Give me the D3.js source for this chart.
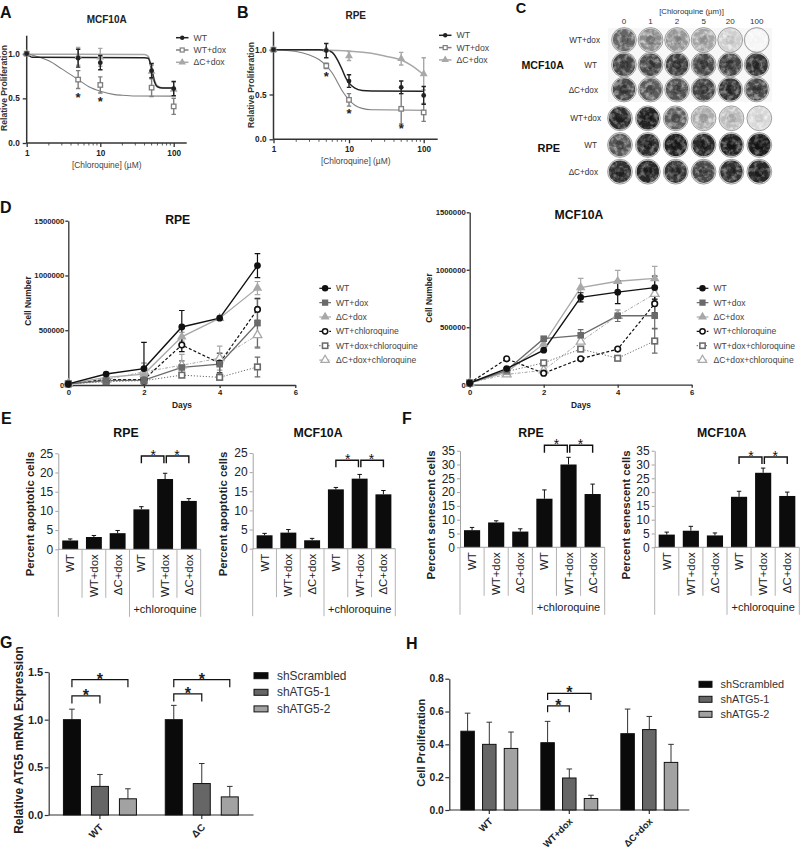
<!DOCTYPE html>
<html><head><meta charset="utf-8">
<script src="https://cdn.jsdelivr.net/npm/d3@7"></script>
<style>
html,body{margin:0;padding:0;background:#fff}
svg{display:block}
text{font-family:"Liberation Sans",Arial,sans-serif}
</style></head><body><div id="chart"></div>
<script>
// ---------- DATA ----------
const doseSeries = ["WT","WT+dox","ΔC+dox"];
const doses = [1,5,10,50,100];
const aWT = [1,.95,.90,.81,.61], aWTe = [0,.10,.08,.08,.08];
const aDox = [1,.71,.65,.62,.41], aDoxe = [0,.10,.09,.10,.09];
const aDC = [1,.97,.96,.80,.60], aDCe = [0,.10,.10,.07,.08];
const aCurveWT = [[1,1],[1.2,.96],[40,.955],[45,.95],[50,.83],[55,.68],[60,.63],[70,.615],[100,.615]];
const aCurveDox = [[1,1],[1.5,.96],[2,.92],[3,.83],[5,.71],[7,.63],[10,.58],[15,.545],[20,.535],[30,.527],[100,.525]];
const aCurveDC = [[1,.995],[40,.99],[45,.97],[50,.84],[55,.70],[60,.64],[70,.62],[100,.615]];
const bWT = [1,.99,.65,.58,.49], bWTe = [0,.08,.07,.07,.10];
const bDox = [1,.82,.44,.34,.30], bDoxe = [0,.03,.07,.17,.10];
const bDC = [1,1,.93,.90,.73], bDCe = [0,0,.05,.07,.18];
const bCurveWT = [[1,1],[4,1],[5,.995],[6,.97],[7,.89],[8,.79],[9,.69],[10,.63],[12,.57],[15,.545],[20,.54],[100,.535]];
const bCurveDox = [[1,1],[2,.98],[3,.94],[4,.89],[5,.82],[6,.74],[7,.64],[8,.55],[10,.44],[12,.38],[15,.345],[20,.33],[100,.325]];
const bCurveDC = [[1,1],[5,.995],[10,.985],[20,.96],[30,.93],[50,.885],[70,.82],[100,.72]];
const aStars = [[5,.515],[10,.47]];
const bStars = [[5,.71],[10,.29],[50,.125]];

const wellDoses = ["0","1","2","5","20","100"];
const wellRows = ["WT+dox","WT","ΔC+dox"];
const mcfWells = [[.62,.46,.42,.36,.18,.02],[.76,.74,.78,.74,.76,.82],[.74,.66,.70,.76,.82,.74]];
const rpeWells = [[.86,.90,.64,.32,.26,.14],[.68,.86,.90,.88,.90,.92],[.84,.88,.82,.74,.84,.88]];

const days = [0,1,2,3,4,5];
const growthSeries = ["WT","WT+dox","ΔC+dox","WT+chloroquine","WT+dox+chloroquine","ΔC+dox+chloroquine"];
const dRpe = [
 [10000,100000,150000,530000,610000,1090000],
 [10000,40000,45000,160000,190000,565000],
 [10000,70000,100000,440000,610000,885000],
 [10000,50000,50000,365000,200000,690000],
 [10000,30000,40000,90000,70000,165000],
 [10000,50000,120000,180000,245000,455000]];
const dRpeErr = [
 [0,0,240000,150000,0,110000],
 [0,0,0,60000,100000,220000],
 [0,0,100000,40000,0,60000],
 [0,0,0,60000,90000,100000],
 [0,0,0,0,0,90000],
 [0,0,80000,100000,110000,120000]];
const dMcf = [
 [15000,140000,300000,760000,805000,845000],
 [15000,125000,400000,430000,600000,600000],
 [15000,110000,355000,845000,900000,925000],
 [15000,225000,100000,225000,310000,705000],
 [15000,115000,190000,310000,230000,380000],
 [15000,90000,125000,375000,600000,790000]];
const dMcfErr = [
 [0,0,0,40000,100000,100000],
 [0,0,0,50000,50000,110000],
 [0,0,0,80000,95000,105000],
 [0,0,0,0,0,80000],
 [0,0,0,0,0,105000],
 [0,0,0,0,0,50000]];

const barCats = ["WT","WT+dox","ΔC+dox","WT","WT+dox","ΔC+dox"];
const eRpe = [2.3,3.2,4.2,10.4,18.3,12.6], eRpeE = [.4,.4,.7,.7,1.5,.6];
const eMcf = [3.5,4.2,2.2,15.5,18.3,14.2], eMcfE = [.5,.8,.5,.5,1.1,1.0];
const fRpe = [6.2,9,5.7,17.6,30,19.3], fRpeE = [1,.6,1,3.2,2.6,3.6];
const fMcf = [4.6,6,4.3,18.3,27,18.6], fMcfE = [.9,1.6,.9,2,1.7,1.4];

const shNames = ["shScrambled","shATG5-1","shATG5-2"];
const gGroups = ["WT","ΔC"];
const gVals = [[1,.30,.17],[1,.33,.19]], gErr = [[.11,.125,.105],[.15,.21,.11]];
const hGroups = ["WT","WT+dox","ΔC+dox"];
const hVals = [[.48,.40,.375],[.41,.195,.07],[.465,.49,.29]], hErr = [[.11,.135,.10],[.13,.055,.02],[.15,.08,.11]];

// ---------- STYLE ----------
const dark="#222", ink="#333", gMid="#6a6a6a", gLt="#a8a8a8", gray3="#7f7f7f";
const svg=d3.select("#chart").append("svg").attr("width",800).attr("height",849).attr("viewBox","0 0 800 849");
svg.append("rect").attr("width",800).attr("height",849).attr("fill","#fff");
const defs=svg.append("defs");
const f=defs.append("filter").attr("id","speckle").attr("x","0").attr("y","0").attr("width","1").attr("height","1");
f.append("feTurbulence").attr("type","fractalNoise").attr("baseFrequency",.22).attr("numOctaves",3).attr("seed",7).attr("result","n");
f.append("feColorMatrix").attr("in","n").attr("type","matrix").attr("values","0 0 0 0 1  0 0 0 0 1  0 0 0 0 1  3 0 0 0 -1.25").attr("result","m");
f.append("feComposite").attr("in","m").attr("in2","SourceGraphic").attr("operator","in");

function T(g,x,y,s,o={}){
  const t=g.append("text").attr("x",x).attr("y",y).text(s)
   .attr("font-size",o.size||10).attr("fill",o.fill||dark)
   .attr("text-anchor",o.anchor||"start").attr("font-weight",o.bold?"bold":"normal");
  if(o.rot!=null) t.attr("transform",`rotate(${o.rot} ${x} ${y})`);
  return t;
}
function marker(g,type,x,y,r,col){
  const sw=Math.max(1.2,r*.45);
  if(type==="circle") g.append("circle").attr("cx",x).attr("cy",y).attr("r",r).attr("fill",col);
  if(type==="square") g.append("rect").attr("x",x-r).attr("y",y-r).attr("width",2*r).attr("height",2*r).attr("fill",col);
  if(type==="tri") g.append("path").attr("d",d3.symbol(d3.symbolTriangle,r*r*3.2)()).attr("transform",`translate(${x},${y})`).attr("fill",col);
  if(type==="ocircle") g.append("circle").attr("cx",x).attr("cy",y).attr("r",r-sw/2).attr("fill","#fff").attr("stroke",col).attr("stroke-width",sw);
  if(type==="osquare") g.append("rect").attr("x",x-r+sw/2).attr("y",y-r+sw/2).attr("width",2*r-sw).attr("height",2*r-sw).attr("fill","#fff").attr("stroke",col).attr("stroke-width",sw);
  if(type==="otri") g.append("path").attr("d",d3.symbol(d3.symbolTriangle,r*r*2.6)()).attr("transform",`translate(${x},${y})`).attr("fill","#fff").attr("stroke",col).attr("stroke-width",sw*.8);
}
function styleAxis(ax,w,size,bold,col){
  ax.select(".domain").attr("stroke",col||ink).attr("stroke-width",w);
  ax.selectAll(".tick line").attr("stroke",col||ink).attr("stroke-width",Math.min(w,1.3));
  ax.selectAll("text").attr("font-size",size).attr("font-weight",bold?"bold":"normal").attr("fill",dark).attr("font-family",'"Liberation Sans",Arial,sans-serif');
}
function errBar(g,x,yTop,yBot,cap,col,w){
  const l=d3.path();
  l.moveTo(x,yTop);l.lineTo(x,yBot);
  l.moveTo(x-cap,yTop);l.lineTo(x+cap,yTop);
  l.moveTo(x-cap,yBot);l.lineTo(x+cap,yBot);
  g.append("path").attr("d",l.toString()).attr("stroke",col).attr("stroke-width",w).attr("fill","none");
}
function errUp(g,x,yTop,yBot,cap,col,w){
  const l=d3.path();
  l.moveTo(x,yBot);l.lineTo(x,yTop);
  l.moveTo(x-cap,yTop);l.lineTo(x+cap,yTop);
  g.append("path").attr("d",l.toString()).attr("stroke",col).attr("stroke-width",w).attr("fill","none");
}
function bracket(g,x1,x2,yTop,yDown1,yDown2,w){
  g.append("path").attr("d",`M${x1},${yDown1}V${yTop}H${x2}V${yDown2}`).attr("fill","none").attr("stroke","#111").attr("stroke-width",w||1.4);
}

// ---------- A, B dose response ----------
function dosePanel(o){
  const g=svg.append("g");
  const x=d3.scaleLog().domain([1,10,100]).range([o.x0,o.x10,o.x100]);
  const y=d3.scaleLinear().domain([0,1]).range([o.y0,o.y1]);
  const ya=g.append("g").attr("transform",`translate(${o.x0},0)`)
    .call(d3.axisLeft(y).tickValues([0,.5,1]).tickFormat(d3.format(".1f")).tickSize(4).tickSizeOuter(0));
  ya.select(".domain").attr("d",`M0,${o.y0}L0,${o.yTopPx}`);
  styleAxis(ya,1.5,8.2,true);
  const xa=g.append("g").attr("transform",`translate(0,${o.y0})`)
    .call(d3.axisBottom(x).tickValues([1,10,100]).tickFormat(d3.format("d")).tickSize(4).tickSizeOuter(0));
  xa.select(".domain").attr("d",`M${o.x0},0L${o.xEndPx},0`);
  styleAxis(xa,1.5,8.2,true);
  const minor=[2,3,4,5,6,7,8,9,20,30,40,50,60,70,80,90];
  g.selectAll(".mn").data(minor).join("line").attr("x1",d=>x(d)).attr("x2",d=>x(d)).attr("y1",o.y0).attr("y2",o.y0+2.5).attr("stroke",ink).attr("stroke-width",.8);

  const line=d3.line().x(d=>x(d[0])).y(d=>y(d[1])).curve(d3.curveMonotoneX);
  const cols=[dark,gray3,gLt], types=["circle","osquare","tri"], rs=[2.4,2.9,2.9];
  [2,1,0].forEach(i=>{
    g.append("path").attr("d",line(o.curves[i])).attr("fill","none").attr("stroke",cols[i]).attr("stroke-width",i===1?1.1:1.5);
  });
  [2,1,0].forEach(i=>{
    doses.forEach((d,k)=>{
      const v=o.vals[i][k], e=o.errs[i][k];
      if(e>0) errBar(g,x(d),y(v+e),y(v-e),2.2,cols[i],1.4);
      marker(g,types[i],x(d),y(v),rs[i],cols[i]);
    });
  });
  o.stars.forEach(s=>T(g,x(s[0]),y(s[1])+5,"*",{size:13,anchor:"middle",bold:true}));
  T(g,o.titleX,o.titleY,o.title,{size:10,bold:true,anchor:"middle"});
  T(g,o.ylabX,o.ylabY,"Relative Proliferation",{size:8.6,rot:-90,anchor:"middle",bold:true,fill:"#333"});
  T(g,o.xlabX,o.xlabY,"[Chloroquine] (µM)",{size:8.4,anchor:"middle",fill:"#444"});
  doseSeries.forEach((s,i)=>{
    const ly=o.legY+i*o.legDy;
    g.append("line").attr("x1",o.legX).attr("x2",o.legX+12.5).attr("y1",ly).attr("y2",ly).attr("stroke",cols[i]).attr("stroke-width",1.5);
    marker(g,types[i],o.legX+6.2,ly,[2.2,2.6,2.8][i],cols[i]);
    T(g,o.legX+17.5,ly+3,s,{size:8.7,fill:"#444"});
  });
}
dosePanel({x0:26.7,x10:100.3,x100:173.7,y0:143,y1:53.7,yTopPx:35.7,xEndPx:186.7,
  vals:[aWT,aDox,aDC],errs:[aWTe,aDoxe,aDCe],curves:[aCurveWT,aCurveDox,aCurveDC],stars:aStars,
  title:"MCF10A",titleX:106.7,titleY:23,ylabX:7,ylabY:88,xlabX:106.7,xlabY:168,legX:176,legY:37.7,legDy:12.3});
dosePanel({x0:273.5,x10:349,x100:423.7,y0:139.3,y1:49.7,yTopPx:31.7,xEndPx:437.7,
  vals:[bWT,bDox,bDC],errs:[bWTe,bDoxe,bDCe],curves:[bCurveWT,bCurveDox,bCurveDC],stars:bStars,
  title:"RPE",titleX:355.7,titleY:19,ylabX:253.5,ylabY:85,xlabX:355.7,xlabY:164,legX:439,legY:35.3,legDy:12.3});

// ---------- C wells ----------
function wellBlock(vals,cx,cy,labelXs){
  const g=svg.append("g");
  const x=d3.scalePoint().domain(wellDoses).range(cx);
  const y=d3.scalePoint().domain([0,1,2]).range(cy);
  const shade=d3.scaleLinear().domain([0,1]).range(["#fafafa","#0a0a0a"]);
  vals.forEach((row,r)=>row.forEach((v,c)=>{
    const X=x(wellDoses[c]),Y=y(r);
    g.append("circle").attr("cx",X).attr("cy",Y).attr("r",12.4).attr("fill","#e4e4e4").attr("stroke","#8a8a8a").attr("stroke-width",.8);
    g.append("circle").attr("cx",X).attr("cy",Y).attr("r",11.2).attr("fill",shade(v));
    g.append("circle").attr("cx",X).attr("cy",Y).attr("r",11.2).attr("fill","#fff").attr("opacity",.3+.4*(1-v)).attr("filter","url(#speckle)");
    g.append("circle").attr("cx",X).attr("cy",Y).attr("r",4.5).attr("fill","#000").attr("opacity",v*.4);
  }));
  wellRows.forEach((n,i)=>T(g,labelXs[i],y(i)+3,n,{size:8.2,anchor:"end",fill:"#333"}));
}
svg.append("rect").attr("x",608).attr("y",28).attr("width",164).attr("height",74).attr("fill","#f7f7f7");
wellBlock(mcfWells,[624,756.7],[40,89.5],[600,597,598]);
wellBlock(rpeWells,[620,759.3],[118.3,171.7],[601,597,598]);
{
  const g=svg.append("g");
  const x=d3.scalePoint().domain(wellDoses).range([624,756.7]);
  wellDoses.forEach(d=>T(g,x(d),23.5,d,{size:8,anchor:"middle",fill:"#333"}));
  T(g,691.5,13.5,"[Chloroquine (µm)]",{size:7.8,anchor:"middle",fill:"#333"});
  T(g,521.5,69,"MCF10A",{size:10.6,bold:true,fill:"#111"});
  T(g,537.5,151.5,"RPE",{size:11,bold:true,fill:"#111"});
}

// ---------- D growth ----------
const gStyles=[
 {c:"#111",m:"circle",r:3.4,w:1.4,d:null},
 {c:gMid,m:"square",r:3.3,w:1.3,d:null},
 {c:gLt,m:"tri",r:3.5,w:1.3,d:null},
 {c:"#111",m:"ocircle",r:3.6,w:1.2,d:"3,2"},
 {c:gMid,m:"osquare",r:3.6,w:1,d:"1.2,1.8"},
 {c:gLt,m:"otri",r:3.6,w:1,d:"3,1.5,1,1.5"}];
function growthPanel(o){
  const g=svg.append("g");
  const x=d3.scaleLinear().domain([0,6]).range([o.x0,o.x6]);
  const y=d3.scaleLinear().domain([0,1500000]).range([o.y0,o.yTop]);
  const ya=g.append("g").attr("transform",`translate(${o.x0},0)`)
    .call(d3.axisLeft(y).tickValues([0,500000,1000000,1500000]).tickFormat(d3.format("d")).tickSize(3).tickPadding(1).tickSizeOuter(0));
  styleAxis(ya,1.3,7.7,true);
  const xa=g.append("g").attr("transform",`translate(0,${o.y0})`)
    .call(d3.axisBottom(x).tickValues([0,2,4,6]).tickFormat(d3.format("d")).tickSize(3).tickPadding(2).tickSizeOuter(0));
  styleAxis(xa,1.3,7.7,true);
  const line=d3.line().x((d,i)=>x(days[i])).y(d=>y(d));
  [5,4,3,2,1,0].forEach(i=>{
    const s=gStyles[i];
    g.append("path").attr("d",line(o.vals[i])).attr("fill","none").attr("stroke",s.c).attr("stroke-width",s.w).attr("stroke-dasharray",s.d);
    days.forEach((d,k)=>{ if(o.errs[i][k]>0) errBar(g,x(d),y(o.vals[i][k]+o.errs[i][k]),y(Math.max(0,o.vals[i][k]-o.errs[i][k])),2.8,s.c,1.2);});
  });
  [5,4,3,2,1,0].forEach(i=>{
    const s=gStyles[i];
    days.forEach((d,k)=>marker(g,s.m,x(d),y(o.vals[i][k]),s.r,s.c));
  });
  T(g,o.tX,o.tY,o.title,{size:12.2,bold:true,anchor:"middle",fill:"#111"});
  T(g,o.ylX,o.ylY,"Cell Number",{size:8.4,bold:true,rot:-90,anchor:"middle"});
  T(g,o.xlX,408,"Days",{size:8.4,bold:true,anchor:"middle"});
  growthSeries.forEach((s,i)=>{
    const ly=288.3+i*14.35, st=gStyles[i];
    g.append("line").attr("x1",o.legX).attr("x2",o.legX+11.7).attr("y1",ly).attr("y2",ly).attr("stroke",st.c).attr("stroke-width",1.2).attr("stroke-dasharray",st.d);
    marker(g,st.m,o.legX+5.8,ly,st.r*.95,st.c);
    T(g,o.legX+16.7,ly+3,s,{size:8.6,fill:"#444"});
  });
}
growthPanel({x0:68.3,x6:295.3,y0:385,yTop:220.7,vals:dRpe,errs:dRpeErr,title:"RPE",tX:177.7,tY:224,ylX:31,ylY:301,xlX:182,legX:319.3});
growthPanel({x0:469.7,x6:691.7,y0:384.7,yTop:212.3,vals:dMcf,errs:dMcfErr,title:"MCF10A",tX:579,tY:219,ylX:432,ylY:298,xlX:581,legX:696.7});

// ---------- E, F bars ----------
function barPanel(o){
  const g=svg.append("g");
  const x=d3.scaleBand().domain(d3.range(6)).range([o.x0,o.x1]).paddingInner(.33).paddingOuter(.165);
  const y=d3.scaleLinear().domain([0,o.max]).range([o.y0,o.yTop]);
  const ya=g.append("g").attr("transform",`translate(${o.x0},0)`)
    .call(d3.axisLeft(y).tickValues(d3.range(0,o.max+1,5)).tickSize(3).tickPadding(2).tickSizeOuter(0));
  styleAxis(ya,.9,12,false,"#999");
  g.selectAll(".bar").data(o.vals).join("rect")
    .attr("x",(d,i)=>x(i)).attr("width",x.bandwidth())
    .attr("y",d=>y(d)).attr("height",d=>o.y0-y(d)).attr("fill","#0c0c0c");
  o.vals.forEach((v,i)=>errUp(g,x(i)+x.bandwidth()/2,y(v+o.errs[i]),y(v),2.2,"#111",1));
  const step=(o.x1-o.x0)/6;
  g.append("line").attr("x1",o.x0).attr("x2",o.x1).attr("y1",o.y0).attr("y2",o.y0).attr("stroke","#999").attr("stroke-width",.9);
  d3.range(7).forEach(i=>{
    const long=(i===0||i===3||i===6);
    const X=o.x0+i*step;
    g.append("line").attr("x1",X).attr("x2",X).attr("y1",o.y0).attr("y2",long?o.y0+67.5:o.y0+48.5).attr("stroke","#aaa").attr("stroke-width",.9);
    if(i<6){
      const cx=x(i)+x.bandwidth()/2;
      T(g,cx+4,o.y0+5,barCats[i],{size:11.4,anchor:"end",rot:-90,fill:"#222"});
    }
  });
  T(g,(o.x0+3*step+o.x1)/2,o.y0+64,"+chloroquine",{size:11,anchor:"middle",fill:"#222"});
  T(g,o.tX,437,o.title,{size:12.3,bold:true,anchor:"middle",fill:"#111"});
  T(g,o.ylX,o.ylY,o.yTitle,{size:o.ylSize||11.4,bold:true,rot:-90,anchor:"middle",fill:"#222"});
  const c=i=>x(i)+x.bandwidth()/2;
  const bTop=y(o.brk[0]), bDown=y(o.brk[1]);
  bracket(g,c(3),c(4)-1.2,bTop,bDown,bDown);
  bracket(g,c(4)+1.2,c(5),bTop,bDown,bDown);
  T(g,(c(3)+c(4))/2,bTop+4,"*",{size:14,anchor:"middle",fill:"#111"});
  T(g,(c(4)+c(5))/2,bTop+4,"*",{size:14,anchor:"middle",fill:"#111"});
}
barPanel({x0:58.3,x1:200.7,y0:549.3,yTop:453.3,max:25,vals:eRpe,errs:eRpeE,title:"RPE",tX:126,ylX:33.5,ylY:514,yTitle:"Percent apoptotic cells",brk:[24.3,22.4]});
barPanel({x0:252.7,x1:395.3,y0:548.7,yTop:453,max:25,vals:eMcf,errs:eMcfE,title:"MCF10A",tX:318,ylX:227,ylY:514,yTitle:"Percent apoptotic cells",brk:[23.1,21.3]});
barPanel({x0:460,x1:604.7,y0:547.3,yTop:450.7,max:35,vals:fRpe,errs:fRpeE,title:"RPE",tX:531,ylX:435,ylY:515,yTitle:"Percent senescent cells",brk:[37,34.3]});
barPanel({x0:654.7,x1:799.3,y0:547.3,yTop:450.7,max:35,vals:fMcf,errs:fMcfE,title:"MCF10A",tX:721.7,ylX:629.5,ylY:515,yTitle:"Percent senescent cells",brk:[32.7,30.2]});

// ---------- G, H grouped ----------
const shCols=["#0a0a0a","#666666","#a2a2a2"];
function groupPanel(o){
  const g=svg.append("g");
  const x0=d3.scaleBand().domain(o.groups).range([o.xa,o.xb]);
  const y=d3.scaleLinear().domain([0,o.max]).range([o.y0,o.yTop]);
  const ya=g.append("g").attr("transform",`translate(${o.x0},0)`)
    .call(d3.axisLeft(y).tickValues(o.ticks).tickFormat(d3.format(".1f")).tickSize(4).tickPadding(1.5).tickSizeOuter(0));
  styleAxis(ya,1.2,o.tickSize,true,"#333");
  const xa=g.append("g").attr("transform",`translate(0,${o.y0})`)
    .call(d3.axisBottom(x0).tickSize(4).tickSizeOuter(0).tickFormat(""));
  xa.select(".domain").attr("d",`M${o.x0},0L${o.xEnd},0`);
  styleAxis(xa,1.2,10,true,"#333");
  o.groups.forEach((grp,gi)=>{
    const cx=x0(grp)+x0.bandwidth()/2;
    const x1=d3.scaleBand().domain([0,1,2]).range([cx-o.spread*1.5,cx+o.spread*1.5]);
    const c=k=>x1(k)+x1.bandwidth()/2;
    o.vals[gi].forEach((v,k)=>{
      errUp(g,c(k),y(v+o.errs[gi][k]),y(v),2.8,"#333",1);
      g.append("rect").attr("x",c(k)-o.bw/2).attr("width",o.bw).attr("y",y(v)).attr("height",o.y0-y(v))
        .attr("fill",shCols[k]).attr("stroke","#111").attr("stroke-width",1);
    });
    T(g,cx+4,o.y0+o.lblDy,grp,{size:o.lblSize,bold:true,anchor:"end",rot:-45,fill:"#222"});
    if(o.brk[gi]){
      const b=o.brk[gi];
      bracket(g,c(0),c(1),y(b[0]),y(b[1]),y(b[1]),1.2);
      bracket(g,c(0),c(2),y(b[2]),y(b[3]),y(b[3]),1.2);
      T(g,(c(0)+c(1))/2,y(b[0])+5,"*",{size:16,anchor:"middle",bold:true,fill:"#222"});
      T(g,(c(0)+c(2))/2,y(b[2])+5,"*",{size:16,anchor:"middle",bold:true,fill:"#222"});
    }
  });
  T(g,o.ylX,o.ylY,o.yTitle,{size:o.ylSize,bold:o.ylBold,rot:-90,anchor:"middle",fill:"#222"});
  shNames.forEach((s,i)=>{
    const ly=o.legY+i*o.legDy;
    g.append("rect").attr("x",o.legX+.5).attr("y",ly-3).attr("width",o.legW).attr("height",6).attr("fill",shCols[i]).attr("stroke","#111").attr("stroke-width",1);
    T(g,o.legT,ly+4,s,{size:o.legSize,fill:"#333"});
  });
}
groupPanel({x0:48.7,xEnd:253.5,xa:49,xb:252.7,y0:815,yTop:672,max:1.5,ticks:[0,.5,1,1.5],groups:gGroups,vals:gVals,errs:gErr,
  spread:28,bw:17,tickSize:11,lblDy:13,lblSize:10,ylX:23,ylY:740,yTitle:"Relative ATG5 mRNA Expression",ylSize:12,ylBold:true,
  legX:253.5,legW:14,legY:675.7,legDy:16.6,legT:277,legSize:11.9,
  brk:[[1.25,1.17,1.42,1.34],[1.27,1.19,1.42,1.34]]});
groupPanel({x0:449.3,xEnd:689.3,xa:449.3,xb:689.3,y0:810,yTop:678.7,max:.8,ticks:[0,.2,.4,.6,.8],groups:hGroups,vals:hVals,errs:hErr,
  spread:21.7,bw:13.5,tickSize:10.3,lblDy:12,lblSize:9.5,ylX:425,ylY:742.7,yTitle:"Cell Proliferation",ylSize:11,ylBold:true,
  legX:698.5,legW:13,legY:684.3,legDy:15,legT:720.5,legSize:10.9,
  brk:[null,[.635,.595,.71,.67],null]});

// ---------- panel letters ----------
const panelLetters=[["A",0,18,16],["B",237,18,16],["C",515.7,13.2,14.5],["D",0,213,16],["E",1,423.5,16],["F",402,423.5,16],["G",0,648,16],["H",406,649,16]];
panelLetters.forEach(p=>T(svg,p[1],p[2],p[0],{size:p[3],bold:true,fill:"#111"}));
</script></body></html>
